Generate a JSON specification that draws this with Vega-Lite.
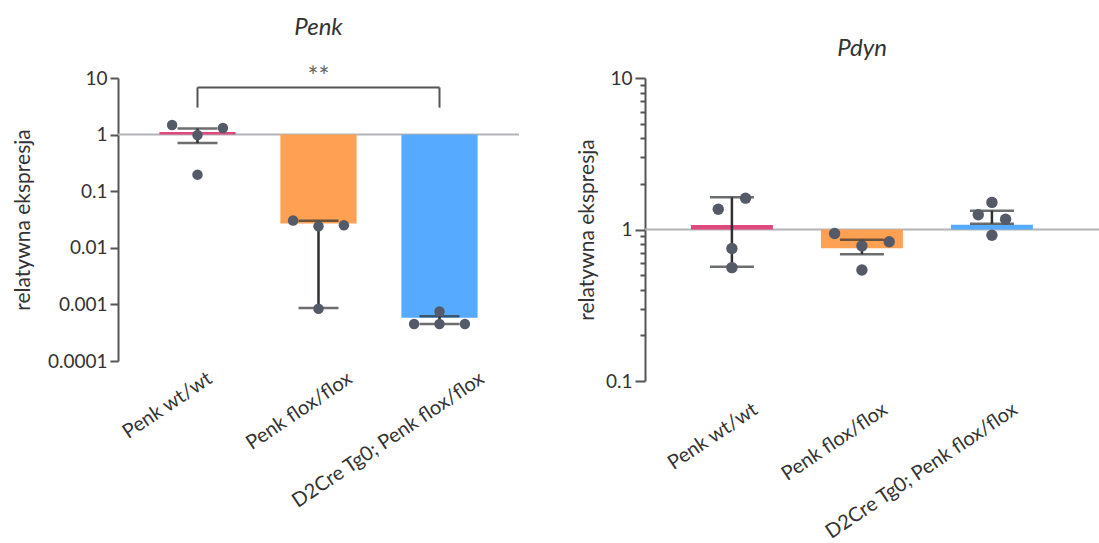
{
  "$schema": "https://vega.github.io/schema/vega-lite/v6.json",
  "background": "white",
  "autosize": {"type": "pad"},
  "padding": {"left": 12, "top": 15, "right": 0, "bottom": 0},
  "bounds": "flush",
  "spacing": 126,
  "config": {
    "font": "Lato",
    "view": {"stroke": null},
    "axis": {
      "grid": false,
      "labelFont": "Lato",
      "titleFont": "Lato",
      "labelColor": "#333333",
      "titleColor": "#333333",
      "titleFontWeight": "normal",
      "domainColor": "#555555",
      "tickColor": "#555555",
      "domainWidth": 2,
      "tickWidth": 2
    },
    "title": {
      "font": "Lato",
      "fontStyle": "italic",
      "fontWeight": "normal",
      "fontSize": 24,
      "color": "#333333",
      "frame": "group",
      "baseline": "alphabetic"
    }
  },
  "datasets": {
    "replicates": [
      {"gene": "Penk", "group": "Penk wt/wt", "lane": "L", "value": 1.48},
      {"gene": "Penk", "group": "Penk wt/wt", "lane": "C", "value": 0.98},
      {"gene": "Penk", "group": "Penk wt/wt", "lane": "R", "value": 1.31},
      {"gene": "Penk", "group": "Penk wt/wt", "lane": "C", "value": 0.196},
      {"gene": "Penk", "group": "Penk flox/flox", "lane": "L", "value": 0.0303},
      {"gene": "Penk", "group": "Penk flox/flox", "lane": "C", "value": 0.024},
      {"gene": "Penk", "group": "Penk flox/flox", "lane": "R", "value": 0.025},
      {"gene": "Penk", "group": "Penk flox/flox", "lane": "C", "value": 0.00084},
      {"gene": "Penk", "group": "D2Cre Tg0; Penk flox/flox", "lane": "C", "value": 0.00075},
      {"gene": "Penk", "group": "D2Cre Tg0; Penk flox/flox", "lane": "L", "value": 0.00045},
      {"gene": "Penk", "group": "D2Cre Tg0; Penk flox/flox", "lane": "C", "value": 0.00045},
      {"gene": "Penk", "group": "D2Cre Tg0; Penk flox/flox", "lane": "R", "value": 0.00045},
      {"gene": "Pdyn", "group": "Penk wt/wt", "lane": "l", "value": 1.36},
      {"gene": "Pdyn", "group": "Penk wt/wt", "lane": "r", "value": 1.61},
      {"gene": "Pdyn", "group": "Penk wt/wt", "lane": "C", "value": 0.75},
      {"gene": "Pdyn", "group": "Penk wt/wt", "lane": "C", "value": 0.56},
      {"gene": "Pdyn", "group": "Penk flox/flox", "lane": "L", "value": 0.94},
      {"gene": "Pdyn", "group": "Penk flox/flox", "lane": "C", "value": 0.78},
      {"gene": "Pdyn", "group": "Penk flox/flox", "lane": "R", "value": 0.83},
      {"gene": "Pdyn", "group": "Penk flox/flox", "lane": "C", "value": 0.54},
      {"gene": "Pdyn", "group": "D2Cre Tg0; Penk flox/flox", "lane": "C", "value": 1.51},
      {"gene": "Pdyn", "group": "D2Cre Tg0; Penk flox/flox", "lane": "l", "value": 1.25},
      {"gene": "Pdyn", "group": "D2Cre Tg0; Penk flox/flox", "lane": "r", "value": 1.17},
      {"gene": "Pdyn", "group": "D2Cre Tg0; Penk flox/flox", "lane": "C", "value": 0.917}
    ],
    "summary": [
      {"gene": "Penk", "group": "Penk wt/wt", "mean": 1.11, "lower": 0.71, "upper": 1.28},
      {"gene": "Penk", "group": "Penk flox/flox", "mean": 0.0268, "lower": 0.00086, "upper": 0.03},
      {"gene": "Penk", "group": "D2Cre Tg0; Penk flox/flox", "mean": 0.00058, "lower": 0.00045, "upper": 0.00062},
      {"gene": "Pdyn", "group": "Penk wt/wt", "mean": 1.07, "lower": 0.567, "upper": 1.63},
      {"gene": "Pdyn", "group": "Penk flox/flox", "mean": 0.753, "lower": 0.687, "upper": 0.855},
      {"gene": "Pdyn", "group": "D2Cre Tg0; Penk flox/flox", "mean": 1.075, "lower": 1.09, "upper": 1.33}
    ],
    "reference": [{"level": 1}],
    "significance": [
      {"from": "Penk wt/wt", "to": "D2Cre Tg0; Penk flox/flox", "middle": "Penk flox/flox", "top": 6.8, "bottom": 3.0, "labelAt": 12.5, "label": "**"}
    ]
  },
  "hconcat": [
    {
      "width": 401,
      "height": 283,
      "title": {"text": "Penk", "offset": 25},
      "resolve": {"scale": {"xOffset": "independent"}},
      "layer": [
        {
          "data": {"name": "reference"},
          "mark": {"type": "rule", "color": "#b4b4b8", "strokeWidth": 2},
          "encoding": {
            "y": {"field": "level", "type": "quantitative"}
          }
        },
        {
          "data": {"name": "summary"},
          "transform": [{"filter": "datum.gene === 'Penk'"}],
          "mark": {"type": "bar"},
          "encoding": {
            "x": {
              "field": "group",
              "type": "nominal",
              "scale": {
                "domain": ["Penk wt/wt", "Penk flox/flox", "D2Cre Tg0; Penk flox/flox"],
                "paddingInner": 0.37,
                "paddingOuter": 0.342
              },
              "axis": {
                "title": null,
                "labelAngle": -34,
                "labelAlign": "right",
                "labelBaseline": "top",
                "labelOffset": {
                  "condition": [
                    {"test": "datum.value === 'Penk wt/wt'", "value": 7},
                    {"test": "datum.value === 'D2Cre Tg0; Penk flox/flox'", "value": 37}
                  ],
                  "value": 26
                },
                "labelPadding": 7,
                "labelFontSize": 20,
                "labelLimit": 400,
                "labelOverlap": false,
                "ticks": false,
                "domain": false
              }
            },
            "y": {
              "field": "mean",
              "type": "quantitative",
              "scale": {"type": "log", "domain": [0.0001, 10], "nice": false},
              "axis": {
                "title": "relatywna ekspresja",
                "titleFontSize": 21,
                "titlePadding": 14,
                "values": [0.0001, 0.001, 0.01, 0.1, 1, 10],
                "labelExpr": "format(datum.value, '~g')",
                "labelFontSize": 19,
                "labelPadding": 3,
                "tickSize": 8
              }
            },
            "y2": {"datum": 1},
            "color": {
              "field": "group",
              "type": "nominal",
              "scale": {
                "domain": ["Penk wt/wt", "Penk flox/flox", "D2Cre Tg0; Penk flox/flox"],
                "range": ["#de4a7e", "#ffa052", "#56aaff"]
              },
              "legend": null
            }
          }
        },
        {
          "data": {"name": "summary"},
          "transform": [{"filter": "datum.gene === 'Penk'"}],
          "mark": {"type": "rule", "color": "#2f3033", "strokeWidth": 2.5},
          "encoding": {
            "x": {"field": "group", "type": "nominal"},
            "y": {"field": "lower", "type": "quantitative"},
            "y2": {"field": "upper"}
          }
        },
        {
          "data": {"name": "summary"},
          "transform": [{"filter": "datum.gene === 'Penk'"}],
          "mark": {"type": "tick", "color": "#2f3033", "thickness": 2.5, "size": 40},
          "encoding": {
            "x": {"field": "group", "type": "nominal"},
            "y": {"field": "upper", "type": "quantitative"}
          }
        },
        {
          "data": {"name": "summary"},
          "transform": [{"filter": "datum.gene === 'Penk'"}],
          "mark": {"type": "tick", "color": "#2f3033", "thickness": 2.5, "size": 40},
          "encoding": {
            "x": {"field": "group", "type": "nominal"},
            "y": {"field": "lower", "type": "quantitative"}
          }
        },
        {
          "data": {"name": "replicates"},
          "transform": [{"filter": "datum.gene === 'Penk'"}],
          "mark": {"type": "circle", "size": 110, "opacity": 1, "color": "#555a68"},
          "encoding": {
            "x": {"field": "group", "type": "nominal"},
            "xOffset": {
              "field": "lane",
              "type": "nominal",
              "scale": {"type": "point", "domain": ["L", "l", "C", "r", "R"], "padding": 1.45}
            },
            "y": {"field": "value", "type": "quantitative"}
          }
        },
        {
          "data": {"name": "significance"},
          "mark": {"type": "rule", "color": "#555555", "strokeWidth": 2},
          "encoding": {
            "x": {"field": "from", "type": "nominal"},
            "x2": {"field": "to"},
            "y": {"field": "top", "type": "quantitative"}
          }
        },
        {
          "data": {"name": "significance"},
          "transform": [{"fold": ["from", "to"], "as": ["end", "endGroup"]}],
          "mark": {"type": "rule", "color": "#555555", "strokeWidth": 2},
          "encoding": {
            "x": {"field": "endGroup", "type": "nominal"},
            "y": {"field": "bottom", "type": "quantitative"},
            "y2": {"field": "top"}
          }
        },
        {
          "data": {"name": "significance"},
          "mark": {"type": "text", "fontSize": 26, "color": "#666666", "baseline": "middle", "font": "Lato", "dy": 5},
          "encoding": {
            "x": {"field": "middle", "type": "nominal"},
            "y": {"field": "labelAt", "type": "quantitative"},
            "text": {"field": "label"}
          }
        }
      ]
    },
    {
      "width": 454,
      "height": 303,
      "title": {"text": "Pdyn", "offset": 8, "dx": -10},
      "resolve": {"scale": {"xOffset": "independent"}},
      "layer": [
        {
          "data": {"name": "reference"},
          "mark": {"type": "rule", "color": "#b4b4b8", "strokeWidth": 2},
          "encoding": {
            "y": {"field": "level", "type": "quantitative"}
          }
        },
        {
          "data": {"name": "summary"},
          "transform": [{"filter": "datum.gene === 'Pdyn'"}],
          "mark": {"type": "bar"},
          "encoding": {
            "x": {
              "field": "group",
              "type": "nominal",
              "scale": {
                "domain": ["Penk wt/wt", "Penk flox/flox", "D2Cre Tg0; Penk flox/flox"],
                "paddingInner": 0.37,
                "paddingOuter": 0.431,
                "align": 0.41
              },
              "axis": {
                "title": null,
                "labelAngle": -34,
                "labelAlign": "right",
                "labelBaseline": "top",
                "labelOffset": 18,
                "labelPadding": 18,
                "labelFontSize": 20,
                "labelLimit": 400,
                "labelOverlap": false,
                "ticks": false,
                "domain": false
              }
            },
            "y": {
              "field": "mean",
              "type": "quantitative",
              "scale": {"type": "log", "domain": [0.1, 10], "nice": false},
              "axis": {
                "title": "relatywna ekspresja",
                "titleFontSize": 21,
                "titlePadding": 8,
                "values": [0.1, 0.2, 0.3, 0.4, 0.5, 0.6, 0.7, 0.8, 0.9, 1, 2, 3, 4, 5, 6, 7, 8, 9, 10],
                "labelExpr": "abs(log(datum.value) / LN10 - round(log(datum.value) / LN10)) < 0.000001 ? format(datum.value, '~g') : ''",
                "labelFontSize": 19,
                "labelPadding": 3,
                "tickSize": {
                  "condition": {"test": "abs(log(datum.value) / LN10 - round(log(datum.value) / LN10)) < 0.000001", "value": 10},
                  "value": 5
                }
              }
            },
            "y2": {"datum": 1},
            "color": {
              "field": "group",
              "type": "nominal",
              "scale": {
                "domain": ["Penk wt/wt", "Penk flox/flox", "D2Cre Tg0; Penk flox/flox"],
                "range": ["#de4a7e", "#ffa052", "#56aaff"]
              },
              "legend": null
            }
          }
        },
        {
          "data": {"name": "summary"},
          "transform": [{"filter": "datum.gene === 'Pdyn'"}],
          "mark": {"type": "rule", "color": "#2f3033", "strokeWidth": 2.5},
          "encoding": {
            "x": {"field": "group", "type": "nominal"},
            "y": {"field": "lower", "type": "quantitative"},
            "y2": {"field": "upper"}
          }
        },
        {
          "data": {"name": "summary"},
          "transform": [{"filter": "datum.gene === 'Pdyn'"}],
          "mark": {"type": "tick", "color": "#2f3033", "thickness": 2.5, "size": 44},
          "encoding": {
            "x": {"field": "group", "type": "nominal"},
            "y": {"field": "upper", "type": "quantitative"}
          }
        },
        {
          "data": {"name": "summary"},
          "transform": [{"filter": "datum.gene === 'Pdyn'"}],
          "mark": {"type": "tick", "color": "#2f3033", "thickness": 2.5, "size": 44},
          "encoding": {
            "x": {"field": "group", "type": "nominal"},
            "y": {"field": "lower", "type": "quantitative"}
          }
        },
        {
          "data": {"name": "replicates"},
          "transform": [{"filter": "datum.gene === 'Pdyn'"}],
          "mark": {"type": "circle", "size": 130, "opacity": 1, "color": "#555a68"},
          "encoding": {
            "x": {"field": "group", "type": "nominal"},
            "xOffset": {
              "field": "lane",
              "type": "nominal",
              "scale": {"type": "point", "domain": ["L", "l", "C", "r", "R"], "padding": 1.73}
            },
            "y": {"field": "value", "type": "quantitative"}
          }
        }
      ]
    }
  ]
}
